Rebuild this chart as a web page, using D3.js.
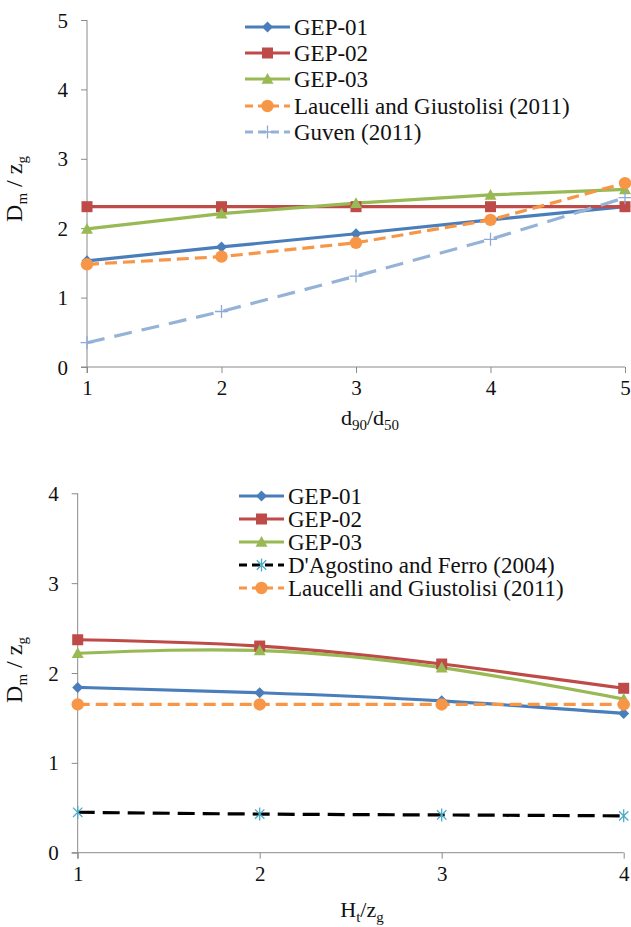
<!DOCTYPE html>
<html><head><meta charset="utf-8">
<script src="https://cdn.jsdelivr.net/npm/d3@7"></script>
<style>
body{margin:0;background:#fff;}
svg{display:block;}
svg text{font-family:"Liberation Serif","Times New Roman",serif;}
</style></head>
<body>
<svg id="c" width="631" height="927"></svg>
<script>
// ---------- DATA ----------
const topX = [1, 2, 3, 4, 5];
const topYTicks = [0, 1, 2, 3, 4, 5];
const topGEP01 = [1.53, 1.73, 1.92, 2.12, 2.31];
const topGEP02 = [2.31, 2.31, 2.31, 2.31, 2.31];
const topGEP03 = [1.99, 2.21, 2.36, 2.48, 2.56];
const topLaucelli = [1.48, 1.59, 1.79, 2.12, 2.65];
const topGuven = [0.35, 0.80, 1.31, 1.84, 2.44];

const botX = [1, 2, 3, 4];
const botYTicks = [0, 1, 2, 3, 4];
const botGEP01 = [1.84, 1.78, 1.69, 1.55];
const botGEP02 = [2.37, 2.30, 2.10, 1.83];
const botGEP03 = [2.22, 2.25, 2.06, 1.71];
const botDAgostino = [0.45, 0.43, 0.42, 0.41];
const botLaucelli = [1.65, 1.65, 1.65, 1.65];

const topNames = ["GEP-01", "GEP-02", "GEP-03", "Laucelli and Giustolisi (2011)", "Guven (2011)"];
const botNames = ["GEP-01", "GEP-02", "GEP-03", "D'Agostino and Ferro (2004)", "Laucelli and Giustolisi (2011)"];

// ---------- STYLES ----------
const FONT = "Liberation Serif";
const ST = {
  gep01: {color: "#4A7EBB", dash: null, marker: "diamond", mcolor: "#4A7EBB"},
  gep02: {color: "#BE4B48", dash: null, marker: "square", mcolor: "#BE4B48"},
  gep03: {color: "#98B954", dash: null, marker: "triangle", mcolor: "#98B954"},
  lauc:  {color: "#F79646", dash: "12,6", marker: "circle", mcolor: "#F79646"},
  guven: {color: "#95B3D7", dash: "18,10", marker: "plus", mcolor: "#8EA9D6"},
  dago:  {color: "#000000", dash: "17,8", marker: "asterisk", mcolor: "#4BACC6"}
};
const AXIS = "#8a8a8a";
const svg = d3.select("#c");

function drawMarker(g, type, x, y, col) {
  if (type === "diamond") {
    const s = 5.5;
    g.append("path").attr("d", `M${x},${y-s}L${x+s},${y}L${x},${y+s}L${x-s},${y}Z`).attr("fill", col);
  } else if (type === "square") {
    const s = 5.5;
    g.append("rect").attr("x", x-s).attr("y", y-s).attr("width", 2*s).attr("height", 2*s).attr("fill", col);
  } else if (type === "triangle") {
    const s = 6;
    g.append("path").attr("d", `M${x},${y-s}L${x+s},${y+s*0.8}L${x-s},${y+s*0.8}Z`).attr("fill", col);
  } else if (type === "circle") {
    g.append("circle").attr("cx", x).attr("cy", y).attr("r", 6.2).attr("fill", col);
  } else if (type === "plus") {
    const s = 6.5;
    g.append("path").attr("d", `M${x-s},${y}H${x+s}M${x},${y-s}V${y+s}`).attr("stroke", col).attr("stroke-width", 1.3).attr("fill", "none");
  } else if (type === "asterisk") {
    const s = 6.5, d = s*0.72;
    g.append("path").attr("d", `M${x},${y-s}V${y+s}M${x-d},${y-d}L${x+d},${y+d}M${x-d},${y+d}L${x+d},${y-d}`)
      .attr("stroke", col).attr("stroke-width", 1.3).attr("fill", "none");
  }
}

function chart(cfg) {
  const x = d3.scaleLinear().domain(cfg.xDomain).range([cfg.left, cfg.right]);
  const y = d3.scaleLinear().domain(cfg.yDomain).range([cfg.bottom, cfg.top]);
  const g = svg.append("g");

  // y axis
  const ya = g.append("g").attr("transform", `translate(${cfg.left},0)`)
    .call(d3.axisLeft(y).tickValues(cfg.yTicks).tickSize(6).tickPadding(13).tickFormat(d3.format("d")));
  ya.attr("font-family", FONT);
  ya.select(".domain").remove();
  ya.selectAll(".tick line").attr("stroke", AXIS);
  ya.selectAll(".tick text").attr("font-size", 21).attr("font-family", FONT).attr("fill", "#111").attr("dy", "0.34em");
  g.append("line").attr("x1", cfg.left).attr("x2", cfg.left).attr("y1", y(cfg.yDomain[1])).attr("y2", cfg.bottom + 6).attr("stroke", AXIS);

  // x axis
  const xa = g.append("g").attr("transform", `translate(0,${cfg.bottom})`)
    .call(d3.axisBottom(x).tickValues(cfg.xTicks).tickSize(6).tickPadding(7).tickFormat(d3.format("d")));
  xa.attr("font-family", FONT);
  xa.select(".domain").remove();
  xa.selectAll(".tick line").attr("stroke", AXIS);
  xa.selectAll(".tick text").attr("font-size", 21).attr("font-family", FONT).attr("fill", "#111").attr("dy", "0.71em");
  g.append("line").attr("x1", cfg.left - 6).attr("x2", cfg.right).attr("y1", cfg.bottom).attr("y2", cfg.bottom).attr("stroke", AXIS);

  // series
  cfg.series.forEach(s => {
    const pts = cfg.xTicks.map((xv, i) => [x(xv), y(s.values[i])]);
    const line = d3.line().curve(cfg.curve);
    g.append("path").attr("d", line(pts)).attr("fill", "none")
      .attr("stroke", s.st.color).attr("stroke-width", 3.2)
      .attr("stroke-dasharray", s.st.dash);
  });
  cfg.series.forEach(s => {
    cfg.xTicks.forEach((xv, i) => drawMarker(g, s.st.marker, x(xv), y(s.values[i]), s.st.mcolor));
  });

  // legend
  cfg.series.forEach((s, i) => {
    const cy = cfg.legY[i];
    g.append("line").attr("x1", cfg.legX).attr("x2", cfg.legX + 45).attr("y1", cy).attr("y2", cy)
      .attr("stroke", s.st.color).attr("stroke-width", 3.2)
      .attr("stroke-dasharray", s.st.dash ? "8,5" : null);
    drawMarker(g, s.st.marker, cfg.legX + 22.5, cy, s.st.mcolor);
    g.append("text").attr("x", cfg.legX + 49).attr("y", cy).attr("dy", "0.35em")
      .attr("font-family", FONT)
      .attr("font-size", cfg.legFont).attr("fill", "#111").text(s.name);
  });

  // y title
  const yt = g.append("text").attr("transform", `translate(22,${cfg.yTitleY}) rotate(-90)`)
    .attr("font-family", FONT)
    .attr("text-anchor", "middle").attr("font-size", 24).attr("fill", "#111");
  yt.append("tspan").text("D");
  yt.append("tspan").attr("font-size", 15).attr("dy", 5).text("m");
  yt.append("tspan").attr("dy", -5).text(" / z");
  yt.append("tspan").attr("font-size", 15).attr("dy", 5).text("g");

  // x title
  const xt = g.append("text").attr("x", cfg.xTitleX).attr("y", cfg.xTitleY)
    .attr("font-family", FONT)
    .attr("text-anchor", "middle").attr("font-size", 22).attr("fill", "#111");
  cfg.xTitle.forEach(p => {
    const t = xt.append("tspan").text(p[0]);
    if (p[1] === "sub") t.attr("font-size", 15).attr("dy", 5);
    else if (p[1] === "up") t.attr("dy", -5);
  });
}

chart({
  left: 87, right: 625, top: 20, bottom: 367,
  xDomain: [1, 5], yDomain: [0, 5], xTicks: topX, yTicks: topYTicks,
  curve: d3.curveLinear,
  series: [
    {name: topNames[0], values: topGEP01, st: ST.gep01},
    {name: topNames[1], values: topGEP02, st: ST.gep02},
    {name: topNames[2], values: topGEP03, st: ST.gep03},
    {name: topNames[3], values: topLaucelli, st: ST.lauc},
    {name: topNames[4], values: topGuven, st: ST.guven}
  ],
  legX: 245, legY: [27, 53, 79, 106, 132], legFont: 23,
  yTitleY: 189, xTitleX: 370, xTitleY: 425,
  xTitle: [["d", ""], ["90", "sub"], ["/d", "up"], ["50", "sub"]]
});

chart({
  left: 77.7, right: 623.7, top: 493.3, bottom: 852.7,
  xDomain: [1, 4], yDomain: [0, 4], xTicks: botX, yTicks: botYTicks,
  curve: d3.curveNatural,
  series: [
    {name: botNames[0], values: botGEP01, st: ST.gep01},
    {name: botNames[1], values: botGEP02, st: ST.gep02},
    {name: botNames[2], values: botGEP03, st: ST.gep03},
    {name: botNames[3], values: botDAgostino, st: ST.dago},
    {name: botNames[4], values: botLaucelli, st: ST.lauc}
  ],
  legX: 239, legY: [496, 519, 542, 565, 588], legFont: 23,
  yTitleY: 670, xTitleX: 362, xTitleY: 917,
  xTitle: [["H", ""], ["t", "sub"], ["/z", "up"], ["g", "sub"]]
});
</script>
</body></html>
